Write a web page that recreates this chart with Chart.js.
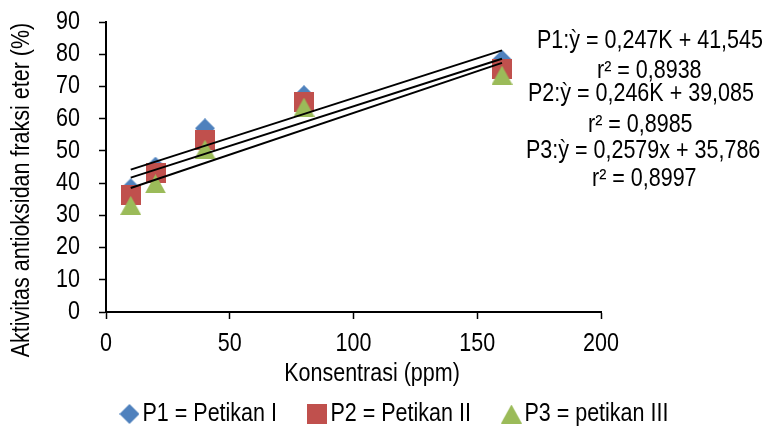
<!DOCTYPE html>
<html>
<head>
<meta charset="utf-8">
<script src="https://cdn.jsdelivr.net/npm/chart.js@4"></script>
<style>
html,body{margin:0;padding:0;background:#fff;}
#wrap{width:767px;height:428px;}
</style>
</head>
<body>
<div id="wrap"><canvas id="c" width="767" height="428"></canvas></div>
<script>
// ---- data ----
const concentrations = [10, 20, 40, 80, 160];
const p1Values = [38.4, 45.1, 57.0, 67.3, 78.3];
const p2Values = [36.2, 43.1, 53.5, 65.1, 75.4];
const p3Values = [33.1, 39.8, 50.5, 63.6, 73.5];
const trendX = [10, 160];
const p1Trend = [44.2, 81.2];
const p2Trend = [41.7, 78.6];
const p3Trend = [38.5, 77.3];
const seriesLabels = ['P1 = Petikan I', 'P2 = Petikan II', 'P3 = petikan III'];
const equationLabels = ['P1:ỳ = 0,247K + 41,545', 'r² = 0,8938', 'P2:ỳ = 0,246K + 39,085', 'r² = 0,8985', 'P3:ỳ = 0,2579x + 35,786', 'r² = 0,8997'];
const xTickValues = [0, 50, 100, 150, 200];
const yTickValues = [0, 10, 20, 30, 40, 50, 60, 70, 80, 90];
const xTitle = 'Konsentrasi (ppm)';
const yTitle = 'Aktivitas antioksidan fraksi eter (%)';

// ---- styling ----
const FONT = "'Liberation Sans', Arial, sans-serif";
const NARROW = 0.86; // horizontal text compression (Arial Narrow look)
const colors = ['#4F81BD', '#C0504D', '#9BBB59'];

const canvas = document.getElementById('c');
const ctx = canvas.getContext('2d');
const nativeFill = CanvasRenderingContext2D.prototype.fillText;
const nativeMeasure = CanvasRenderingContext2D.prototype.measureText;
ctx.fillText = function (text, x, y, maxWidth) {
  this.save();
  this.translate(x, y);
  this.scale(NARROW, 1);
  if (maxWidth === undefined || maxWidth === null) nativeFill.call(this, text, 0, 0);
  else nativeFill.call(this, text, 0, 0, maxWidth / NARROW);
  this.restore();
};
ctx.measureText = function (text) {
  const m = nativeMeasure.call(this, text);
  return {
    width: m.width * NARROW,
    actualBoundingBoxLeft: m.actualBoundingBoxLeft * NARROW,
    actualBoundingBoxRight: m.actualBoundingBoxRight * NARROW,
    actualBoundingBoxAscent: m.actualBoundingBoxAscent,
    actualBoundingBoxDescent: m.actualBoundingBoxDescent,
    fontBoundingBoxAscent: m.fontBoundingBoxAscent,
    fontBoundingBoxDescent: m.fontBoundingBoxDescent
  };
};

function markerCanvas(kind, color) {
  const w = kind === 'triangle' ? 21 : 20;
  const h = kind === 'triangle' ? 19 : 20;
  const cv = document.createElement('canvas');
  cv.width = w; cv.height = h;
  const g = cv.getContext('2d');
  g.fillStyle = color;
  g.beginPath();
  if (kind === 'diamond') {
    g.moveTo(w / 2, 0); g.lineTo(w, h / 2); g.lineTo(w / 2, h); g.lineTo(0, h / 2);
  } else if (kind === 'square') {
    g.rect(0, 0, w, h);
  } else {
    g.moveTo(w / 2, 0); g.lineTo(w, h); g.lineTo(0, h);
  }
  g.closePath();
  g.fill();
  return cv;
}
const markers = [markerCanvas('diamond', colors[0]), markerCanvas('square', colors[1]), markerCanvas('triangle', colors[2])];

function pts(xs, ys) { return xs.map((x, i) => ({x: x, y: ys[i]})); }

Chart.defaults.font.family = FONT;
Chart.defaults.font.size = 25;
Chart.defaults.color = '#000';

const textPlugin = {
  id: 'texts',
  afterDraw(chart) {
    const c = chart.ctx;
    c.save();
    c.fillStyle = '#000';
    c.textBaseline = 'middle';
    c.font = '25px ' + FONT;
    c.textAlign = 'center';
    c.fillText(xTitle, 372, 374);
    c.save();
    c.translate(22, 190);
    c.rotate(-Math.PI / 2);
    c.fillText(yTitle, 0, 0);
    c.restore();
    c.textAlign = 'left';
    const pos = [[537, 41], [597, 71], [528, 94], [588, 125], [526, 151], [592, 179]];
    equationLabels.forEach((t, i) => c.fillText(t, pos[i][0], pos[i][1]));
    c.restore();
  }
};

const trendStyle = {showLine: true, borderColor: '#000', borderWidth: 2, pointRadius: 0, pointHoverRadius: 0, fill: false, order: 0};

new Chart(canvas, {
  type: 'scatter',
  data: {
    datasets: [
      {label: seriesLabels[0], data: pts(concentrations, p1Values), pointStyle: markers[0], backgroundColor: colors[0], borderColor: colors[0], order: 3},
      {label: seriesLabels[1], data: pts(concentrations, p2Values), pointStyle: markers[1], backgroundColor: colors[1], borderColor: colors[1], order: 2},
      {label: seriesLabels[2], data: pts(concentrations, p3Values), pointStyle: markers[2], backgroundColor: colors[2], borderColor: colors[2], order: 1},
      Object.assign({label: 'trend1', data: pts(trendX, p1Trend)}, trendStyle),
      Object.assign({label: 'trend2', data: pts(trendX, p2Trend)}, trendStyle),
      Object.assign({label: 'trend3', data: pts(trendX, p3Trend)}, trendStyle)
    ]
  },
  options: {
    responsive: false,
    animation: false,
    events: [],
    layout: {padding: {left: 30.4, right: 0, top: 22, bottom: 0}},
    plugins: {
      tooltip: {enabled: false},
      legend: {
        position: 'bottom',
        maxHeight: 66.5,
        labels: {
          usePointStyle: true,
          pointStyleWidth: 1,
          padding: 40,
          font: {size: 25},
          color: '#000',
          filter: (item) => item.datasetIndex < 3,
          sort: (a, b) => a.datasetIndex - b.datasetIndex
        }
      }
    },
    scales: {
      x: {
        type: 'linear',
        min: 0, max: 200,
        afterBuildTicks: (s) => { s.ticks = xTickValues.map(v => ({value: v})); },
        afterFit: (s) => { s.height = 49.5; },
        grid: {display: true, drawOnChartArea: false, drawTicks: true, tickLength: 7, tickColor: '#000', tickWidth: 1.5},
        border: {display: true, color: '#000', width: 2},
        ticks: {font: {size: 25}, color: '#000', padding: 10, maxRotation: 0, autoSkip: false}
      },
      y: {
        type: 'linear',
        min: 0, max: 90,
        afterBuildTicks: (s) => { s.ticks = yTickValues.map(v => ({value: v})); },
        afterFit: (s) => { s.width = 75.6; s.paddingTop = 0; s.paddingBottom = 0; },
        grid: {display: true, drawOnChartArea: false, drawTicks: true, tickLength: 7, tickColor: '#000', tickWidth: 1.5},
        border: {display: true, color: '#000', width: 2},
        ticks: {font: {size: 25}, color: '#000', padding: 19, autoSkip: false}
      },
      yRight: {
        type: 'linear',
        position: 'right',
        display: true,
        afterFit: (s) => { s.width = 166; s.paddingTop = 0; s.paddingBottom = 0; },
        grid: {display: false},
        border: {display: false},
        ticks: {display: false}
      }
    }
  },
  plugins: [textPlugin]
});
</script>
</body>
</html>
